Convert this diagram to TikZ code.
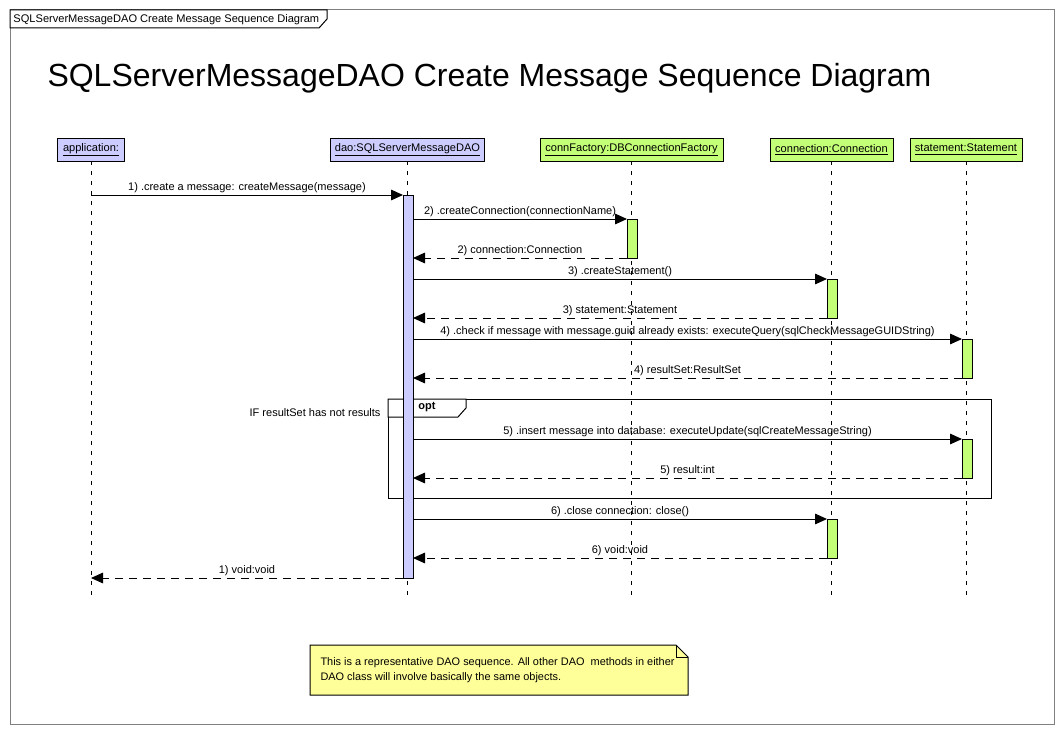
\documentclass[tikz,border=0pt]{standalone}
\usepackage{fontspec}
\setmainfont{Liberation Sans}
\usetikzlibrary{arrows.meta}
\definecolor{lav}{RGB}{204,204,255}
\definecolor{lime}{RGB}{196,255,120}
\definecolor{notey}{RGB}{255,255,153}
\begin{document}
\begin{tikzpicture}[x=0.75pt,y=-0.75pt, font=\fontsize{8.25}{9.5}\selectfont, line width=0.75pt,
  head/.style={draw, minimum height=17.25pt, inner xsep=2pt, inner ysep=0pt, outer sep=0pt, font=\fontsize{8.3}{9.5}\selectfont},
  lifeline/.style={draw, dash pattern=on 3pt off 4.5pt},
  actbox/.style={draw, minimum width=7.5pt, inner sep=0pt, outer sep=0pt, anchor=north},
  msg/.style={draw, -{Triangle[length=9pt,width=8pt]}},
  ret/.style={draw, dash pattern=on 6pt off 4.5pt, -{Triangle[length=9pt,width=8pt]}},
  lbl/.style={above, inner sep=1.5pt}
]
\useasboundingbox (0,0) rectangle (1064,735);
% outer frame and title tab
\draw[gray] (10,10) rectangle (1054,724);
\draw[fill=white] (10,10) -- (327,10) -- (327,19) -- (319,28) -- (10,28) -- cycle;
\node[anchor=west, inner sep=0pt, font=\fontsize{8.3}{10}\selectfont] (tabtxt) at (13,19.5) {SQLServerMessageDAO Create Message Sequence Diagram};
\node[anchor=west, inner sep=0pt, font=\fontsize{24}{28}\selectfont] (title) at (47,78) {SQLServerMessageDAO Create Message Sequence Diagram};

% heads
\node[head, fill=lav, minimum width=50.25pt] (app) at (91,149.5) {\underline{application:}};
\node[head, fill=lav, minimum width=115.5pt] (dao) at (407.5,149.5) {\underline{dao:SQLServerMessageDAO}};
\node[head, fill=lime, minimum width=137.25pt] (cf) at (631.5,149.5) {\underline{connFactory:DBConnectionFactory}};
\node[head, fill=lime, minimum width=92.25pt] (conn) at (831.5,149.5) {\underline{connection:Connection}};
\node[head, fill=lime, minimum width=84pt] (stmt) at (966,149.5) {\underline{statement:Statement}};

% lifeline ends
\coordinate (appE) at (91,600);
\coordinate (daoE) at (408,600);
\coordinate (cfE) at (632,600);
\coordinate (connE) at (832,600);
\coordinate (stmtE) at (967,600);
\draw[lifeline] (app.south) -- (app.south |- appE);
\draw[lifeline] (dao.south) -- (dao.south |- daoE);
\draw[lifeline] (cf.south) -- (cf.south |- cfE);
\draw[lifeline] (conn.south) -- (conn.south |- connE);
\draw[lifeline] (stmt.south) -- (stmt.south |- stmtE);

% opt frame
\draw (388,399) rectangle (991,498);
\draw[fill=white] (388,399) -- (466,399) -- (466,408) -- (458,417) -- (388,417) -- cycle;
\node[font=\bfseries\fontsize{8.25}{9.5}\selectfont, inner sep=0pt] (optl) at (427,407) {opt};
\node[anchor=east, inner sep=0pt] (guard) at (381,413) {IF resultSet has not results};

% activations
\node[actbox, fill=lav, minimum height=287.25pt] (daoA) at (408,195) {};
\node[actbox, fill=lime, minimum height=29.25pt] (cfA) at (632,219) {};
\node[actbox, fill=lime, minimum height=29.25pt] (connA1) at (832,279) {};
\node[actbox, fill=lime, minimum height=29.25pt] (stmtA1) at (967,339) {};
\node[actbox, fill=lime, minimum height=29.25pt] (stmtA2) at (967,439) {};
\node[actbox, fill=lime, minimum height=29.25pt] (connA2) at (832,519) {};

% message endpoints
\coordinate (app1) at (91,195);
\coordinate (app2) at (91,578);
\coordinate (d2) at (413,219);
\coordinate (d2r) at (413,258);
\coordinate (d3) at (413,279);
\coordinate (d3r) at (413,318);
\coordinate (d4) at (413,339);
\coordinate (d4r) at (413,378);
\coordinate (d5) at (413,439);
\coordinate (d5r) at (413,478);
\coordinate (d6) at (413,519);
\coordinate (d6r) at (413,558);

% messages
\draw[msg] (app1) -- node[lbl] {1) .create a message: createMessage(message)} (daoA.north west);
\draw[msg] (d2) -- node[lbl] {2) .createConnection(connectionName)} (cfA.north west);
\draw[ret] (cfA.south west) -- node[lbl] {2) connection:Connection} (d2r);
\draw[msg] (d3) -- node[lbl] {3) .createStatement()} (connA1.north west);
\draw[ret] (connA1.south west) -- node[lbl] {3) statement:Statement} (d3r);
\draw[msg] (d4) -- node[lbl] {4) .check if message with message.guid already exists: executeQuery(sqlCheckMessageGUIDString)} (stmtA1.north west);
\draw[ret] (stmtA1.south west) -- node[lbl] {4) resultSet:ResultSet} (d4r);
\draw[msg] (d5) -- node[lbl] {5) .insert message into database: executeUpdate(sqlCreateMessageString)} (stmtA2.north west);
\draw[ret] (stmtA2.south west) -- node[lbl] {5) result:int} (d5r);
\draw[msg] (d6) -- node[lbl] {6) .close connection: close()} (connA2.north west);
\draw[ret] (connA2.south west) -- node[lbl] {6) void:void} (d6r);
\draw[ret] (daoA.south west) -- node[lbl] {1) void:void} (app2);

% note
\draw[fill=notey] (310,645) -- (676,645) -- (688,657) -- (688,695) -- (310,695) -- cycle;
\draw (676,645) -- (676,657) -- (688,657);
\node[anchor=north west, inner sep=0pt, align=left, font=\fontsize{8.2}{11.25}\selectfont] (notetxt) at (320,657) {This is a representative DAO sequence. All other DAO\ \ methods in either\\DAO class will involve basically the same objects.};
\end{tikzpicture}
\end{document}
